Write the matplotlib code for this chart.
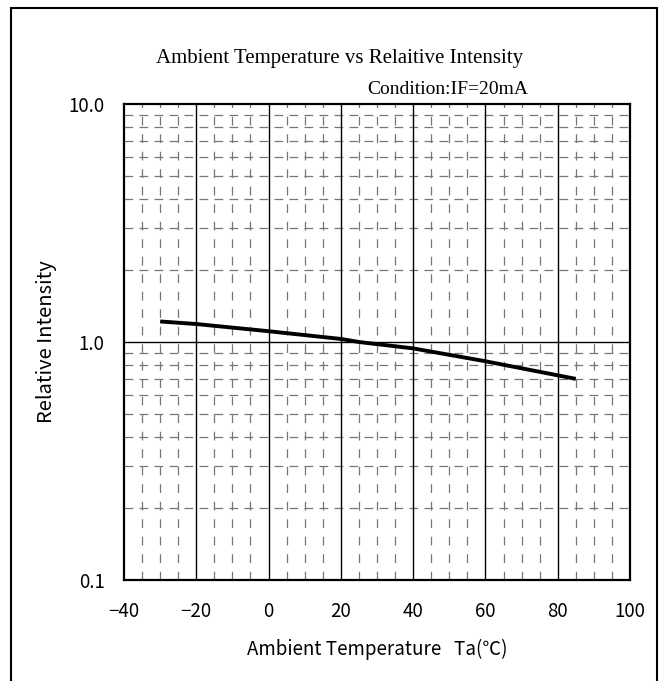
import matplotlib
matplotlib.use("Agg")
import matplotlib.pyplot as plt
from matplotlib.patches import Rectangle
from matplotlib.ticker import FixedLocator, FixedFormatter
import numpy as np

# --- DADOS ---
temperatura = [-30, -20, 0, 20, 25, 40, 60, 85]
intensidade = [1.22, 1.19, 1.11, 1.03, 1.0, 0.94, 0.83, 0.70]

x_ticks = [-40, -20, 0, 20, 40, 60, 80, 100]
x_labels = ["\u221240", "\u221220", "0", "20", "40", "60", "80", "100"]
y_ticks = [0.1, 1.0, 10.0]
y_labels = ["0.1", "1.0", "10.0"]

fonte_eixos = ["Noto Sans CJK JP", "DejaVu Sans"]
fonte_titulo = "Liberation Serif"

fig = plt.figure(figsize=(6.65, 6.81), dpi=100)
ax = fig.add_axes([124 / 665, 1 - 580 / 681, 506 / 665, 476 / 681])

# moldura externa
fig.patches.append(Rectangle((11 / 665, -0.05), 646 / 665, 1.05 - 8 / 681,
                             transform=fig.transFigure, fill=False,
                             edgecolor="black", linewidth=1.5))

ax.set_yscale("log")
ax.set_xlim(-40, 100)
ax.set_ylim(0.1, 10)

# grade menor tracejada
for xv in np.arange(-40, 101, 5):
    if xv % 20 != 0:
        ax.axvline(xv, color="#777777", lw=0.9, ls=(0, (7, 7)), zorder=1)
for dec in [0.1, 1.0]:
    for m in range(2, 10):
        ax.axhline(dec * m, color="#777777", lw=0.9, ls=(0, (7, 5)), zorder=1)

# grade maior
for xv in x_ticks[1:-1]:
    ax.axvline(xv, color="black", lw=1.0, zorder=2)
ax.axhline(1.0, color="black", lw=1.0, zorder=2)

ax.plot(temperatura, intensidade, color="black", lw=2.8, zorder=3,
        solid_capstyle="butt")

ax.xaxis.set_major_locator(FixedLocator(x_ticks))
ax.xaxis.set_major_formatter(FixedFormatter(x_labels))
ax.yaxis.set_major_locator(FixedLocator(y_ticks))
ax.yaxis.set_major_formatter(FixedFormatter(y_labels))
ax.yaxis.set_minor_locator(FixedLocator([]))
ax.tick_params(which="both", length=0, labelsize=13.5)
ax.tick_params(axis="x", pad=15)
ax.tick_params(axis="y", pad=14)
for lab in ax.get_xticklabels() + ax.get_yticklabels():
    lab.set_family(fonte_eixos)

for s in ax.spines.values():
    s.set_linewidth(1.6)

ax.set_xlabel("Ambient Temperature   Ta(\u2103)", family=fonte_eixos,
              fontsize=13.5, labelpad=12)
ax.set_ylabel("Relative Intensity", family=fonte_eixos, fontsize=14.5,
              labelpad=8)

fig.text(340 / 665, 1 - 58 / 681, "Ambient Temperature vs Relaitive Intensity",
         family=fonte_titulo, fontsize=15, ha="center", va="center")
fig.text(448 / 665, 1 - 90 / 681, "Condition:IF=20mA",
         family=fonte_titulo, fontsize=14, ha="center", va="center")

plt.savefig("out.png", dpi=100)
